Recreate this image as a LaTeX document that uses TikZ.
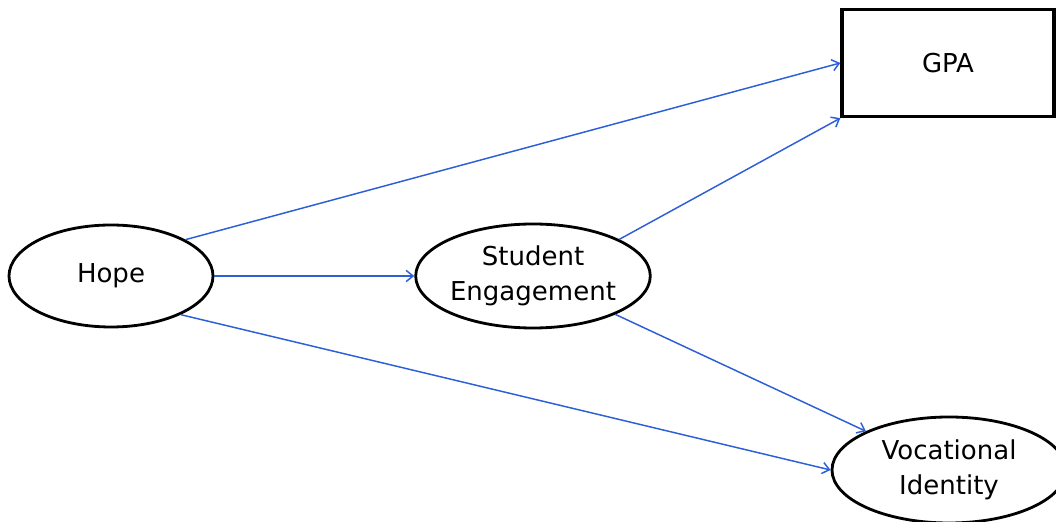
\documentclass[tikz,border=0pt]{standalone}
\usepackage{fontspec}
\setmainfont{DejaVu Sans}
\usetikzlibrary{shapes.geometric, arrows.meta}
\definecolor{pathblue}{RGB}{45,95,215}

\begin{document}
\begin{tikzpicture}[>={Straight Barb[length=5pt,width=8pt]},
	latent/.style={ellipse, draw, line width=2pt, inner sep=0pt, align=center, font=\fontsize{18.5}{25}\selectfont},
	observed/.style={rectangle, draw, line width=2.4pt, inner sep=0pt, font=\fontsize{18.5}{25}\selectfont},
	path/.style={->, draw=pathblue, line width=1.05pt}]
	\useasboundingbox (0,0) rectangle (26.4,13.05);
	\node[latent, minimum width=5.1cm, minimum height=2.55cm] (hope) at (2.775,6.15) {Hope};
	\node[latent, minimum width=5.85cm, minimum height=2.6cm] (engage) at (13.325,6.15) {Student\\Engagement};
	\node[observed, minimum width=5.3cm, minimum height=2.675cm] (gpa) at (23.7,11.475) {GPA};
	\node[latent, minimum width=5.85cm, minimum height=2.65cm] (vocid) at (23.725,1.3) {Vocational\\Identity};
	% paths
	\draw[path] (hope.26) -- (gpa.west);
	\draw[path] (hope.east) -- (engage.west);
	\draw[path] (hope.-29) -- (vocid.west);
	\draw[path] (engage.23) -- (gpa.south west);
	\draw[path] (engage.-25) -- (vocid.155);
\end{tikzpicture}
\end{document}
